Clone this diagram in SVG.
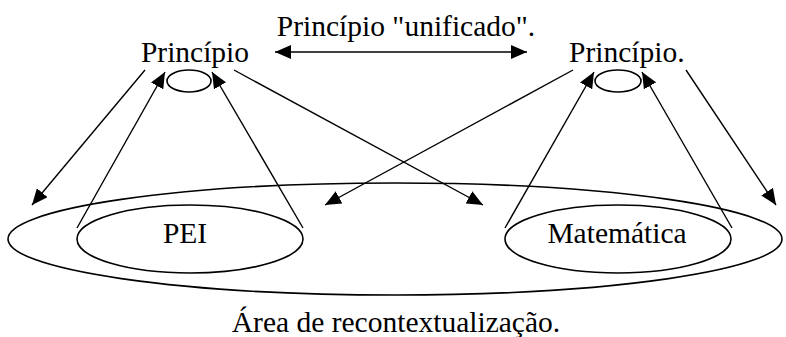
<svg xmlns="http://www.w3.org/2000/svg" width="786" height="337" viewBox="0 0 786 337">
<style>
  text { font-family: "Liberation Serif", Tinos, "Times New Roman", Times, "DejaVu Serif", serif; font-size: 29.5px; fill: #000; }
  .shape { fill: none; stroke: #000; stroke-width: 1.6; }
  .ln { fill: none; stroke: #000; stroke-width: 1.4; }
  .arr { marker-end: url(#ah); }
  .arr2 { marker-start: url(#ahs); marker-end: url(#ah); }
</style>
<defs>
  <marker id="ah" viewBox="0 0 16 14" refX="16" refY="7" markerWidth="16" markerHeight="14" markerUnits="userSpaceOnUse" orient="auto">
    <path d="M0,0 L16,7 L0,14 Z" fill="#000"/>
  </marker>
  <marker id="ahs" viewBox="0 0 16 14" refX="0" refY="7" markerWidth="16" markerHeight="14" markerUnits="userSpaceOnUse" orient="auto">
    <path d="M16,0 L0,7 L16,14 Z" fill="#000"/>
  </marker>
</defs>
<rect width="786" height="337" fill="#fff"/>
<g id="area">
  <ellipse class="shape" cx="395" cy="239" rx="387" ry="56"/>
  <text x="396" y="332" text-anchor="middle" font-family="Liberation Serif, serif">Área de recontextualização.</text>
</g>
<g id="pei">
  <ellipse class="shape" cx="190" cy="239" rx="113" ry="34"/>
  <text x="185" y="243" text-anchor="middle" font-family="Liberation Serif, serif">PEI</text>
</g>
<g id="matematica">
  <ellipse class="shape" cx="618" cy="239" rx="113" ry="34"/>
  <text x="617" y="243" text-anchor="middle" font-family="Liberation Serif, serif">Matemática</text>
</g>
<g id="principio-left">
  <text x="195" y="62" text-anchor="middle" font-family="Liberation Serif, serif">Princípio</text>
  <ellipse class="shape" cx="189" cy="81" rx="22" ry="11"/>
</g>
<g id="principio-right">
  <text x="569" y="62" font-family="Liberation Serif, serif">Princípio.</text>
  <ellipse class="shape" cx="618" cy="81" rx="23" ry="11"/>
</g>
<g id="unificado">
  <text x="406" y="36" text-anchor="middle" font-family="Liberation Serif, serif">Princípio "unificado".</text>
</g>
<g id="connectors">
  <line class="ln arr2" x1="275" y1="52" x2="527" y2="52"/>
  <line class="ln arr" x1="145" y1="70" x2="32" y2="205"/>
  <line class="ln arr" x1="234" y1="70" x2="483" y2="205"/>
  <line class="ln arr" x1="573" y1="70" x2="325" y2="205"/>
  <line class="ln arr" x1="686" y1="70" x2="776" y2="205"/>
  <line class="ln arr" x1="77" y1="228" x2="165" y2="72"/>
  <line class="ln arr" x1="303" y1="228" x2="212" y2="72"/>
  <line class="ln arr" x1="505" y1="228" x2="594" y2="72"/>
  <line class="ln arr" x1="732" y1="228" x2="642" y2="72"/>
</g>
</svg>
